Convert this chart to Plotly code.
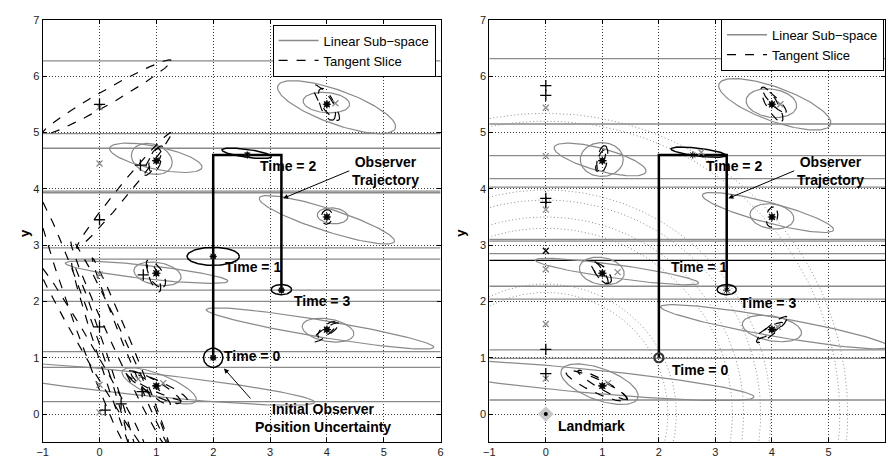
import numpy as np
import plotly.graph_objects as go

# ---------------- data ----------------
X_TICKS = [-1, 0, 1, 2, 3, 4, 5, 6]
Y_TICKS = [0, 1, 2, 3, 4, 5, 6, 7]

LANDMARK_X = [1, 4, 1, 4, 1, 4]
LANDMARK_Y = [0.5, 1.5, 2.5, 3.5, 4.5, 5.5]

TRAJ_X = [2, 2, 3.2, 3.2]
TRAJ_Y = [1, 4.6, 4.6, 2.2]

OBS_X = [2, 2, 2.6, 3.2]
OBS_Y = [1, 2.8, 4.6, 2.2]
TIME_LABELS = ["Time = 0", "Time = 1", "Time = 2", "Time = 3"]

# linear sub-space lines (y levels)
LEFT_SUBSPACE_Y = [6.27, 4.98, 4.72, 3.96, 3.93, 2.95, 2.75, 2.2, 2.0, 1.11, 0.83, 0.22]
RIGHT_SUBSPACE_Y = [6.31, 5.15, 4.59, 4.18, 4.03, 3.10, 3.07, 2.85, 2.27, 2.04, 1.14, 0.99, 0.25]
RIGHT_OBS_LINE_Y = [2.73]

# ellipses: centre x, centre y, semi-axis a, semi-axis b, angle (deg)
LEFT_GRAY_CX = [4.17, 3.99, 0.99, 0.92, 4.00, 4.10, 0.83, 1.02, 3.88, 4.02, 0.60, 1.05]
LEFT_GRAY_CY = [5.45, 5.53, 4.55, 4.53, 3.45, 3.52, 2.52, 2.49, 1.52, 1.49, 0.55, 0.50]
LEFT_GRAY_A = [1.10, 0.41, 0.83, 0.37, 1.25, 0.27, 1.44, 0.42, 2.03, 0.46, 3.20, 0.70]
LEFT_GRAY_B = [0.30, 0.18, 0.20, 0.26, 0.20, 0.14, 0.12, 0.20, 0.15, 0.20, 0.20, 0.20]
LEFT_GRAY_ANG = [-20, -5, -12, -20, -18, -5, -6.4, -10, -9.5, -10, -6.1, -22]

RIGHT_GRAY_CX = [4.05, 3.99, 0.96, 0.99, 3.93, 4.00, 1.26, 0.99, 4.05, 4.00, 0.50, 0.95]
RIGHT_GRAY_CY = [5.50, 5.52, 4.52, 4.52, 3.58, 3.51, 2.53, 2.54, 1.55, 1.52, 0.61, 0.53]
RIGHT_GRAY_A = [1.05, 0.45, 0.84, 0.38, 1.20, 0.39, 1.46, 0.40, 2.05, 0.53, 3.20, 0.72]
RIGHT_GRAY_B = [0.30, 0.25, 0.20, 0.30, 0.18, 0.22, 0.12, 0.24, 0.17, 0.22, 0.21, 0.28]
RIGHT_GRAY_ANG = [-20, -8, -15, 0, -15, -8, -8, -10, -10, -10, -5.5, -20]

LEFT_DASH_CX = [0.12, 0.43, -0.30, 0.35, -0.15, 0.10, 0.55, 3.99, 4.00, 0.98, 0.95, 4.00, 1.00, 0.95, 3.98, 4.00, 0.95, 0.90, 1.00]
LEFT_DASH_CY = [5.62, 3.97, 1.65, 1.25, 1.05, 0.90, 1.10, 5.53, 5.50, 4.50, 4.50, 3.50, 2.47, 2.45, 1.45, 1.50, 0.48, 0.45, 0.50]
LEFT_DASH_A = [1.32, 1.32, 2.39, 2.04, 1.90, 1.90, 1.80, 0.38, 0.30, 0.22, 0.30, 0.13, 0.25, 0.30, 0.28, 0.20, 0.55, 0.45, 0.60]
LEFT_DASH_B = [0.13, 0.10, 0.15, 0.12, 0.10, 0.08, 0.07, 0.10, 0.12, 0.10, 0.08, 0.10, 0.12, 0.08, 0.07, 0.08, 0.12, 0.08, 0.10]
LEFT_DASH_ANG = [30, 51, -70.4, -65.3, -60, -72, -68, -55, -70, 75, 60, 80, -60, -70, 35, 40, -30, -40, -25]

RIGHT_DASH_CX = [1.00, 0.97, 4.00, 4.05, 4.00, 1.00, 0.95, 4.00, 3.95, 0.90, 1.00]
RIGHT_DASH_CY = [4.52, 4.50, 5.50, 5.55, 3.50, 2.50, 2.52, 1.50, 1.48, 0.50, 0.52]
RIGHT_DASH_A = [0.25, 0.20, 0.35, 0.28, 0.18, 0.22, 0.25, 0.35, 0.28, 0.60, 0.50]
RIGHT_DASH_B = [0.09, 0.06, 0.10, 0.07, 0.10, 0.10, 0.07, 0.08, 0.06, 0.12, 0.08]
RIGHT_DASH_ANG = [80, 70, -60, -45, 80, -50, -55, 40, 30, -25, -30]

LEFT_OBS_CX = [2.0, 2.0, 2.59, 3.2]
LEFT_OBS_CY = [1.0, 2.8, 4.63, 2.21]
LEFT_OBS_A = [0.17, 0.46, 0.44, 0.18]
LEFT_OBS_B = [0.17, 0.16, 0.07, 0.09]
LEFT_OBS_ANG = [0, 0, -8, 0]

RIGHT_OBS_CX = [2.7, 3.2]
RIGHT_OBS_CY = [4.65, 2.21]
RIGHT_OBS_A = [0.49, 0.17]
RIGHT_OBS_B = [0.07, 0.09]
RIGHT_OBS_ANG = [-7, 0]

# range rings (right panel) around landmark at origin
RING_RADII = [2.16, 2.31, 3.30, 3.50, 3.80, 3.98, 5.20, 5.34]

# extra estimate markers
LEFT_PLUS_X = [0, 0, 0, 0.1, 0.38, 0.72, 0.77, 0.75]
LEFT_PLUS_Y = [5.5, 3.45, 1.55, 0.07, 0.18, 4.42, 2.47, 0.40]
LEFT_GX_X = [0, 0, 0, 0, 0, 4.15, 0.68, 1.12]
LEFT_GX_Y = [5.45, 4.45, 2.48, 0.52, 0.03, 5.52, 0.62, 0.55]

RIGHT_PLUS_X = [0, 0, 0, 0, 0, 0]
RIGHT_PLUS_Y = [5.83, 5.66, 3.83, 3.76, 1.15, 0.72]
RIGHT_GX_X = [0, 0, 0, 0, 0, 0, 1.27, 1.10, 4.10, 2.75, 4.15]
RIGHT_GX_Y = [5.44, 4.58, 3.63, 2.57, 1.60, 0.63, 2.52, 0.55, 1.55, 4.65, 5.5]
RIGHT_BX_X = [0]
RIGHT_BX_Y = [2.9]
LANDMARK0_X = [0]
LANDMARK0_Y = [0]

GRAY = "#8a8a8a"
FONT = "Liberation Sans, Arial, Helvetica, sans-serif"


def ellipses(cx, cy, a, b, ang, n=120):
    xs, ys = [], []
    t = np.linspace(0, 2 * np.pi, n)
    for x0, y0, aa, bb, th in zip(cx, cy, a, b, ang):
        r = np.deg2rad(th)
        ex = x0 + aa * np.cos(t) * np.cos(r) - bb * np.sin(t) * np.sin(r)
        ey = y0 + aa * np.cos(t) * np.sin(r) + bb * np.sin(t) * np.cos(r)
        xs += list(ex) + [None]
        ys += list(ey) + [None]
    return xs, ys


def hlines(levels):
    xs, ys = [], []
    for v in levels:
        xs += [X_TICKS[0], X_TICKS[-1], None]
        ys += [v, v, None]
    return xs, ys


fig = go.Figure()


def add(tr, panel):
    if panel == 2:
        tr.update(xaxis="x2", yaxis="y2")
    fig.add_trace(tr)


def mk(symbol, size, color, width=1.2, fill=None):
    return dict(symbol=symbol, size=size, color=fill if fill else color,
                line=dict(color=color, width=width))


for panel in (1, 2):
    legend_name = "legend" if panel == 1 else "legend2"
    sub = LEFT_SUBSPACE_Y if panel == 1 else RIGHT_SUBSPACE_Y
    hx, hy = hlines(sub)
    add(go.Scatter(x=hx, y=hy, mode="lines", line=dict(color=GRAY, width=1.3),
                   name="Linear Sub\u2212space", legend=legend_name, showlegend=True), panel)
    if panel == 1:
        gx, gy = ellipses(LEFT_GRAY_CX, LEFT_GRAY_CY, LEFT_GRAY_A, LEFT_GRAY_B, LEFT_GRAY_ANG)
        dx, dy = ellipses(LEFT_DASH_CX, LEFT_DASH_CY, LEFT_DASH_A, LEFT_DASH_B, LEFT_DASH_ANG)
        ox, oy = ellipses(LEFT_OBS_CX, LEFT_OBS_CY, LEFT_OBS_A, LEFT_OBS_B, LEFT_OBS_ANG)
    else:
        gx, gy = ellipses(RIGHT_GRAY_CX, RIGHT_GRAY_CY, RIGHT_GRAY_A, RIGHT_GRAY_B, RIGHT_GRAY_ANG)
        dx, dy = ellipses(RIGHT_DASH_CX, RIGHT_DASH_CY, RIGHT_DASH_A, RIGHT_DASH_B, RIGHT_DASH_ANG)
        ox, oy = ellipses(RIGHT_OBS_CX, RIGHT_OBS_CY, RIGHT_OBS_A, RIGHT_OBS_B, RIGHT_OBS_ANG)
        # range rings
        n = len(RING_RADII)
        rx, ry = ellipses(LANDMARK0_X * n, LANDMARK0_Y * n, RING_RADII, RING_RADII, [0] * n, n=400)
        add(go.Scatter(x=rx, y=ry, mode="lines", line=dict(color="#8f8f8f", width=1, dash="1px,2.5px"),
                       showlegend=False, hoverinfo="skip"), panel)
        lx, ly = hlines(RIGHT_OBS_LINE_Y)
        add(go.Scatter(x=lx, y=ly, mode="lines", line=dict(color="black", width=1.2),
                       showlegend=False), panel)
    add(go.Scatter(x=gx, y=gy, mode="lines", line=dict(color=GRAY, width=1.2),
                   showlegend=False), panel)
    add(go.Scatter(x=dx, y=dy, mode="lines", line=dict(color="black", width=1.2, dash="dash"),
                   name="Tangent Slice", legend=legend_name, showlegend=True), panel)
    add(go.Scatter(x=ox, y=oy, mode="lines", line=dict(color="black", width=1.5),
                   showlegend=False), panel)
    # trajectory
    add(go.Scatter(x=TRAJ_X, y=TRAJ_Y, mode="lines", line=dict(color="black", width=2.5),
                   showlegend=False), panel)
    # markers
    if panel == 1:
        px_, py_, gxx, gxy = LEFT_PLUS_X, LEFT_PLUS_Y, LEFT_GX_X, LEFT_GX_Y
    else:
        px_, py_, gxx, gxy = RIGHT_PLUS_X, RIGHT_PLUS_Y, RIGHT_GX_X, RIGHT_GX_Y
    add(go.Scatter(x=gxx, y=gxy, mode="markers", marker=mk("x-thin-open", 6, GRAY, 1.3),
                   showlegend=False), panel)
    add(go.Scatter(x=px_, y=py_, mode="markers", marker=mk("cross-thin-open", 8, "black", 1.3),
                   showlegend=False), panel)
    add(go.Scatter(x=LANDMARK_X, y=LANDMARK_Y, mode="markers",
                   marker=mk("circle", 6, "#333333", 0), showlegend=False), panel)
    add(go.Scatter(x=LANDMARK_X, y=LANDMARK_Y, mode="markers", marker=mk("asterisk-open", 7, "black", 1.1),
                   showlegend=False), panel)
    if panel == 1:
        add(go.Scatter(x=OBS_X, y=OBS_Y, mode="markers",
                       marker=mk("circle", 6, "#333333", 0), showlegend=False), panel)
        add(go.Scatter(x=OBS_X, y=OBS_Y, mode="markers", marker=mk("asterisk-open", 6, "black", 1),
                       showlegend=False), panel)
    else:
        add(go.Scatter(x=OBS_X[2:], y=OBS_Y[2:], mode="markers", marker=mk("asterisk-open", 6, "black", 1),
                       showlegend=False), panel)
        add(go.Scatter(x=OBS_X[:1], y=OBS_Y[:1], mode="markers", marker=mk("circle-open", 9, "#333333", 2.2),
                       showlegend=False), panel)
        add(go.Scatter(x=RIGHT_BX_X, y=RIGHT_BX_Y, mode="markers", marker=mk("x-thin-open", 6, "black", 1.3),
                       showlegend=False), panel)
        add(go.Scatter(x=LANDMARK0_X, y=LANDMARK0_Y, mode="markers",
                       marker=mk("diamond", 12, "#c8c8c8", 0), showlegend=False), panel)
        add(go.Scatter(x=LANDMARK0_X, y=LANDMARK0_Y, mode="markers",
                       marker=mk("circle", 4, "black", 0), showlegend=False), panel)

# ---------------- annotations ----------------
ann = []
label_font = dict(family=FONT, size=14, color="black")
LEFT_LABEL_POS = [(2.69, 1.04), (2.70, 2.61), (3.31, 4.40), (3.92, 2.0)]
RIGHT_LABEL_POS = [(2.72, 0.79), (2.71, 2.61), (3.33, 4.40), (3.93, 1.98)]
for panel, poss in ((1, LEFT_LABEL_POS), (2, RIGHT_LABEL_POS)):
    xr = "x" if panel == 1 else "x2"
    yr = "y" if panel == 1 else "y2"
    for lab, (xx, yy) in zip(TIME_LABELS, poss):
        ann.append(dict(x=xx, y=yy, xref=xr, yref=yr, text="<b>%s</b>" % lab, showarrow=False,
                        font=label_font))
    ann.append(dict(x=5.03, y=4.31, xref=xr, yref=yr, text="<b>Observer<br>Trajectory</b>",
                    showarrow=False, font=label_font))
    ann.append(dict(x=3.23, y=3.83, ax=4.42, ay=4.33, xref=xr, yref=yr, axref=xr, ayref=yr,
                    text="", showarrow=True, arrowhead=2, arrowsize=1, arrowwidth=1, arrowcolor="black"))
ann.append(dict(x=3.93, y=-0.07, xref="x", yref="y", text="<b>Initial Observer<br>Position Uncertainty</b>",
                showarrow=False, font=label_font))
ann.append(dict(x=2.19, y=0.81, ax=2.68, ay=0.25, xref="x", yref="y", axref="x", ayref="y",
                text="", showarrow=True, arrowhead=2, arrowsize=1, arrowwidth=1, arrowcolor="black"))
ann.append(dict(x=0.81, y=-0.21, xref="x2", yref="y2", text="<b>Landmark</b>",
                showarrow=False, font=label_font))
# axis titles
ann.append(dict(x=9 / 888, y=0.5, xref="paper", yref="paper", text="<b>y</b>", textangle=-90,
                showarrow=False, font=dict(family=FONT, size=13, color="black")))
ann.append(dict(x=459 / 888, y=0.5, xref="paper", yref="paper", text="<b>y</b>", textangle=-90,
                showarrow=False, font=dict(family=FONT, size=13, color="black")))

axis_common = dict(showline=True, linecolor="black", linewidth=1, mirror="ticks",
                   ticks="inside", ticklen=4, tickcolor="black",
                   showgrid=True, gridcolor="#3a3a3a", griddash="1px,2px", gridwidth=1,
                   zeroline=False, tickfont=dict(family=FONT, size=11, color="#222222"))

legend_common = dict(xanchor="right", yanchor="top", bgcolor="white",
                     bordercolor="black", borderwidth=1,
                     font=dict(family=FONT, size=13, color="black"),
                     tracegroupgap=0, itemwidth=40)

fig.update_layout(
    width=888, height=459,
    margin=dict(l=0, r=0, t=0, b=0),
    paper_bgcolor="white", plot_bgcolor="white",
    xaxis=dict(domain=[0.0417, 0.4944], range=[-1, 6], tickvals=X_TICKS, anchor="y", **axis_common),
    yaxis=dict(domain=[0.037, 0.9695], range=[-0.5, 7], tickvals=Y_TICKS, anchor="x", **axis_common),
    xaxis2=dict(domain=[0.5498, 1.0], range=[-1, 6], tickvals=X_TICKS, anchor="y2", **axis_common),
    yaxis2=dict(domain=[0.037, 0.9695], range=[-0.5, 7], tickvals=Y_TICKS, anchor="x2", **axis_common),
    legend=dict(x=0.4887, y=0.959, **legend_common),
    legend2=dict(x=0.9989, y=0.9717, **legend_common),
    annotations=ann,
    showlegend=True,
)

fig.write_html("out.html")
